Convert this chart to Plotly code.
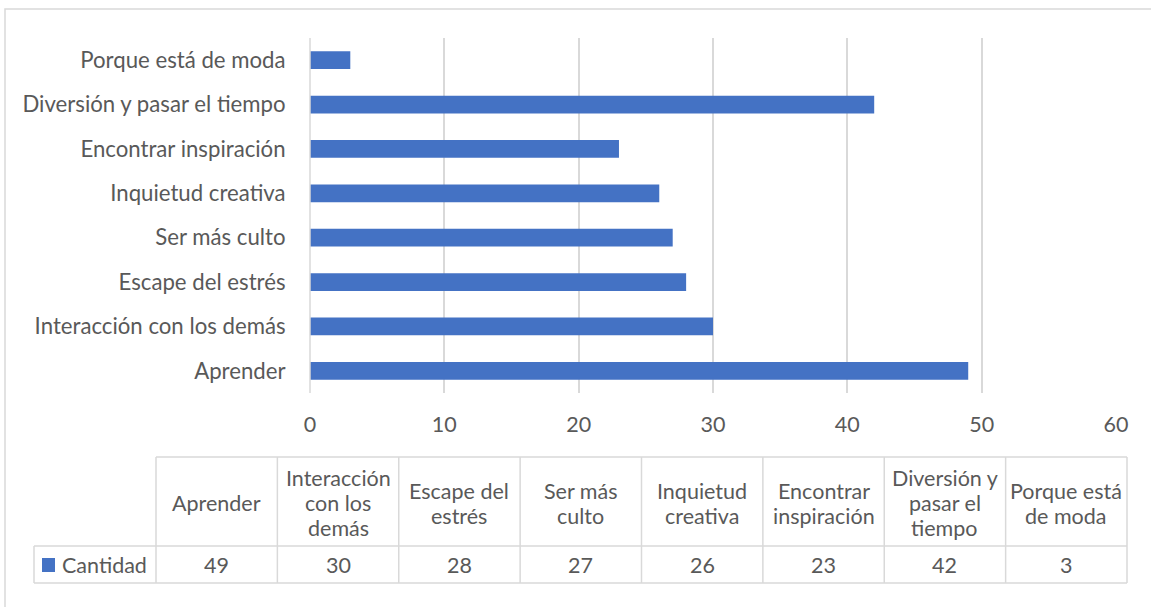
import plotly.graph_objects as go

categories = ["Aprender", "Interacción con los demás", "Escape del estrés", "Ser más culto",
              "Inquietud creativa", "Encontrar inspiración", "Diversión y pasar el tiempo",
              "Porque está de moda"]
cantidad = [49, 30, 28, 27, 26, 23, 42, 3]
table_headers = [["Aprender"], ["Interacción", "con los", "demás"], ["Escape del", "estrés"],
                 ["Ser más", "culto"], ["Inquietud", "creativa"], ["Encontrar", "inspiración"],
                 ["Diversión y", "pasar el", "tiempo"], ["Porque está", "de moda"]]
series_name = "Cantidad"
x_ticks = [0, 10, 20, 30, 40, 50, 60]

W, H = 1151, 607
L, R, T, B = 310, 1116, 38, 393
FONT = "Lato"
FS = 21.5
FSY = 22.2
GRAY = "#595959"
GRID = "#d9d9d9"
BLUE = "#4472C4"

def px(x):
    return (x - L) / (R - L)

def py(y):
    return (B - y) / (B - T)

fig = go.Figure()
fig.add_trace(go.Bar(y=categories, x=cantidad, orientation="h", name=series_name,
                     marker=dict(color=BLUE, line=dict(width=0)), width=0.4, hoverinfo="x+y"))

fig.update_layout(
    width=W, height=H,
    margin=dict(l=L, r=W - R, t=T, b=H - B, pad=0),
    paper_bgcolor="white", plot_bgcolor="white",
    showlegend=False,
    font=dict(family=FONT, color=GRAY, size=FS),
    xaxis=dict(range=[0, 60], tickvals=x_ticks, showgrid=True, gridcolor=GRID, gridwidth=1.5,
               zeroline=False, showline=False, ticks="outside", ticklen=12,
               tickcolor="rgba(0,0,0,0)", tickfont=dict(size=FS, color=GRAY, family=FONT), fixedrange=True),
    yaxis=dict(showgrid=False, zeroline=False, showline=False, ticks="outside", ticklen=19,
               tickcolor="rgba(0,0,0,0)", tickfont=dict(size=FSY, color=GRAY, family=FONT),
               categoryorder="array", categoryarray=categories, fixedrange=True),
)

shapes = []
# outer chart border
shapes.append(dict(type="rect", xref="paper", yref="paper", x0=px(5), x1=px(1160), y0=py(9), y1=py(620),
                   line=dict(color=GRID, width=1.5), fillcolor="rgba(0,0,0,0)", layer="below"))
# vertical axis line
shapes.append(dict(type="line", xref="paper", yref="paper", x0=0, x1=0, y0=0, y1=1,
                   line=dict(color=GRID, width=1.5)))

# data table
tbl_top, tbl_mid, tbl_bot = 457, 546, 583
col0, col1 = 34, 156
ncol = len(categories)
colw = (1127 - col1) / ncol
line_style = dict(color=GRID, width=1.5)
shapes.append(dict(type="line", xref="paper", yref="paper", x0=px(col1), x1=px(1127), y0=py(tbl_top), y1=py(tbl_top), line=line_style))
shapes.append(dict(type="line", xref="paper", yref="paper", x0=px(col0), x1=px(1127), y0=py(tbl_mid), y1=py(tbl_mid), line=line_style))
shapes.append(dict(type="line", xref="paper", yref="paper", x0=px(col0), x1=px(1127), y0=py(tbl_bot), y1=py(tbl_bot), line=line_style))
shapes.append(dict(type="line", xref="paper", yref="paper", x0=px(col0), x1=px(col0), y0=py(tbl_mid), y1=py(tbl_bot), line=line_style))
for i in range(ncol + 1):
    xx = col1 + i * colw
    shapes.append(dict(type="line", xref="paper", yref="paper", x0=px(xx), x1=px(xx), y0=py(tbl_top), y1=py(tbl_bot), line=line_style))
# legend key
shapes.append(dict(type="rect", xref="paper", yref="paper", x0=px(42), x1=px(55), y0=py(558), y1=py(572),
                   line=dict(width=0), fillcolor=BLUE))

annotations = []
line_gap = 25
hdr_center = 503
for i, (hdr, val) in enumerate(zip(table_headers, cantidad)):
    cx = col1 + (i + 0.5) * colw
    n = len(hdr)
    for j, part in enumerate(hdr):
        yy = hdr_center + (j - (n - 1) / 2) * line_gap
        annotations.append(dict(xref="paper", yref="paper", x=px(cx), y=py(yy), text=part, showarrow=False,
                                xanchor="center", yanchor="middle", align="center",
                                font=dict(size=FS, color=GRAY, family=FONT)))
    annotations.append(dict(xref="paper", yref="paper", x=px(cx), y=py(565), text=str(val), showarrow=False,
                            xanchor="center", yanchor="middle",
                            font=dict(size=FS, color=GRAY, family=FONT)))
annotations.append(dict(xref="paper", yref="paper", x=px(60), y=py(565), text=series_name, showarrow=False,
                        xanchor="left", yanchor="middle", font=dict(size=FS, color=GRAY, family=FONT)))

fig.update_layout(shapes=shapes, annotations=annotations)
fig.write_html("out.html", config={"displayModeBar": False},
               post_script="document.body.style.margin='0';document.body.style.padding='0';")
